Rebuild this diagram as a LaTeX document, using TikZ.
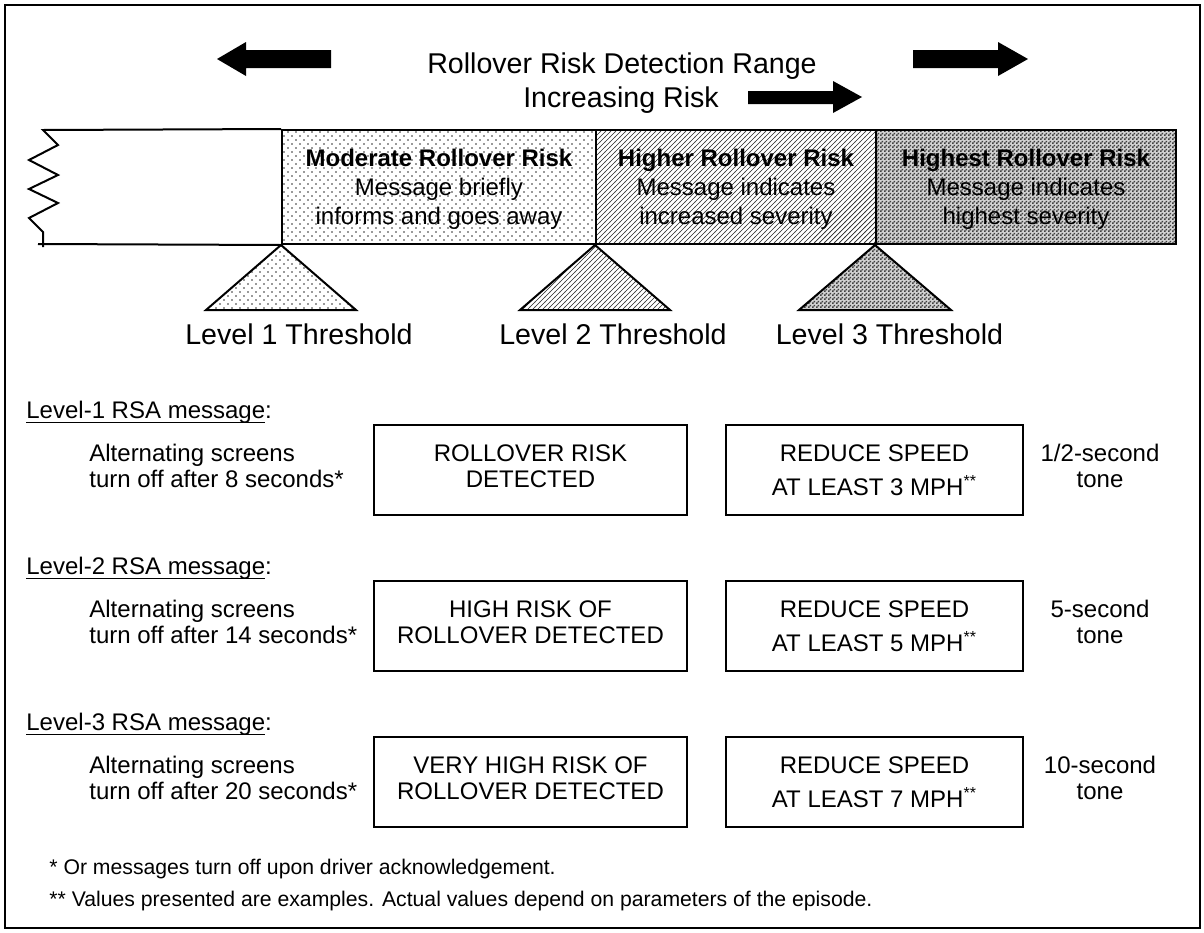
\documentclass[tikz,border=0pt]{standalone}
\usepackage{fontspec}
\setmainfont{Liberation Sans}
\usetikzlibrary{patterns}
\pgfdeclarepatternformonly{rdots}{\pgfqpoint{-0.6pt}{-0.6pt}}{\pgfqpoint{2.6pt}{2.6pt}}{\pgfqpoint{4pt}{4pt}}{%
  \pgfpathcircle{\pgfqpoint{0pt}{0pt}}{0.45pt}%
  \pgfpathcircle{\pgfqpoint{2pt}{2pt}}{0.45pt}%
  \pgfusepath{fill}}
\pgfdeclarepatternformonly{rhatch}{\pgfqpoint{-1pt}{-1pt}}{\pgfqpoint{3.5pt}{3.5pt}}{\pgfqpoint{2.5pt}{2.5pt}}{%
  \pgfsetlinewidth{0.35pt}%
  \pgfpathmoveto{\pgfqpoint{-0.1pt}{-0.1pt}}%
  \pgfpathlineto{\pgfqpoint{2.6pt}{2.6pt}}%
  \pgfusepath{stroke}}
\pgfdeclarepatternformonly{rcheck}{\pgfqpoint{0pt}{0pt}}{\pgfqpoint{2pt}{2pt}}{\pgfqpoint{2pt}{2pt}}{%
  \pgfpathrectangle{\pgfqpoint{0pt}{0pt}}{\pgfqpoint{1pt}{1pt}}%
  \pgfpathrectangle{\pgfqpoint{1pt}{1pt}}{\pgfqpoint{1pt}{1pt}}%
  \pgfusepath{fill}}
\newcommand\myul[1]{\setbox0\hbox{#1}\rlap{\rule[-2.6pt]{\wd0}{0.6pt}}\box0}
\begin{document}
\begin{tikzpicture}[x=0.5pt,y=-0.5pt,
  big/.style={font=\fontsize{14.3}{17}\selectfont, inner sep=0pt, anchor=base},
  bandtxt/.style={font=\fontsize{12}{14.5}\selectfont, inner sep=0pt, anchor=base},
  txt/.style={font=\fontsize{12}{13}\selectfont, inner sep=0pt, anchor=base},
  spdtxt/.style={font=\fontsize{12}{17}\selectfont, inner sep=0pt, anchor=base},
  foot/.style={font=\fontsize{10.6}{12}\selectfont, inner sep=0pt, anchor=base west},
  region/.style={draw, line width=1pt, minimum height=57pt, inner sep=0pt},
  msgbox/.style={draw, line width=0.8pt, minimum height=45pt, inner sep=0pt},
  dotfill/.style={pattern=rdots, pattern color=black!80, preaction={fill=white}},
  hatchfill/.style={pattern=rhatch, pattern color=black!85, preaction={fill=white}},
  checkfill/.style={pattern=rcheck, pattern color=black!75, preaction={fill=gray!35}},
  tri/.style={draw, line width=1pt, line join=miter}
]
\useasboundingbox (0,0) rectangle (1204,932);
% frame
\draw[line width=1.2pt] (5,5) rectangle (1200,928);

% top block arrows
\fill (217,59) -- (246,42) -- (246,50) -- (331,50) -- (331,68) -- (246,68) -- (246,76) -- cycle;
\fill (1028,59) -- (998,42) -- (998,50) -- (913,50) -- (913,68) -- (998,68) -- (998,76) -- cycle;
\fill (862,97) -- (833,81) -- (833,91) -- (748,91) -- (748,104) -- (833,104) -- (833,113) -- cycle;

% titles
\node[big] (title) at (622,73) {Rollover Risk Detection Range};
\node[big] (incr) at (621,107) {Increasing Risk};

% band regions
\node[region, dotfill, minimum width=157pt] (mod) at (439,187) {};
\node[region, hatchfill, minimum width=140pt] (high) at (736,187) {};
\node[region, checkfill, minimum width=150pt] (highest) at (1026,187) {};

% left open part with zigzag
\draw[line width=1pt, line join=miter] (mod.north west) -- (43,130) -- (58,145) -- (29,160) -- (58,175)
  -- (29,189) -- (58,203) -- (29,218) -- (43,232) -- (43,247);
\draw[line width=1pt] (mod.south west) -- (38,244);

% band texts
\node[bandtxt] (modtxt) at (439,166) {\begin{tabular}[t]{@{}c@{}}\textbf{Moderate Rollover Risk}\\Message briefly\\informs and goes away\end{tabular}};
\node[bandtxt] (hightxt) at (736,166) {\begin{tabular}[t]{@{}c@{}}\textbf{Higher Rollover Risk}\\Message indicates\\increased severity\end{tabular}};
\node[bandtxt] (highesttxt) at (1026,166) {\begin{tabular}[t]{@{}c@{}}\textbf{Highest Rollover Risk}\\Message indicates\\highest severity\end{tabular}};

% threshold triangles
\draw[tri, dotfill] (mod.south west) -- ++(-75,65) -- ++(150,0) -- cycle;
\draw[tri, hatchfill] (high.south west) -- ++(-75,65) -- ++(150,0) -- cycle;
\draw[tri, checkfill] (highest.south west) -- ++(-76,65) -- ++(152,0) -- cycle;

\node[big] (th1) at (299,344) {Level 1 Threshold};
\node[big] (th2) at (613,344) {Level 2 Threshold};
\node[big] (th3) at (889.5,344) {Level 3 Threshold};

% message rows
\foreach \rw/\secs/\la/\lb/\mph/\tn in {1/8/ROLLOVER RISK/DETECTED/3/{1/2-second},
    2/14/HIGH RISK OF/ROLLOVER DETECTED/5/{5-second},
    3/20/VERY HIGH RISK OF/ROLLOVER DETECTED/7/{10-second}}{
  \pgfmathsetmacro\off{156*(\rw-1)}
  \node[txt, anchor=base west] (lab\rw) at (26,{418+\off}) {\myul{Level-\rw\ RSA message}:};
  \node[txt, anchor=base west] (alt\rw) at (89,{461+\off}) {\begin{tabular}[t]{@{}l@{}}Alternating screens\\turn off after \secs\ seconds*\end{tabular}};
  \node[msgbox, minimum width=156.5pt] (a\rw) at (530.5,{470+\off}) {};
  \node[txt] (at\rw) at (530.5,{461+\off}) {\begin{tabular}[t]{@{}c@{}}\la\\\lb\end{tabular}};
  \node[msgbox, minimum width=148.5pt] (b\rw) at (874.5,{470+\off}) {};
  \node[spdtxt] (bt\rw) at (874.5,{461+\off}) {\begin{tabular}[t]{@{}c@{}}REDUCE SPEED\\AT LEAST \mph\ MPH\textsuperscript{**}\end{tabular}};
  \node[txt] (tone\rw) at (1100,{461+\off}) {\begin{tabular}[t]{@{}c@{}}\tn\\tone\end{tabular}};
}

% footnotes
\node[foot] (f1) at (49,874) {* Or messages turn off upon driver acknowledgement.};
\node[foot] (f2) at (49,906) {** Values presented are examples. Actual values depend on parameters of the episode.};
\end{tikzpicture}
\end{document}
